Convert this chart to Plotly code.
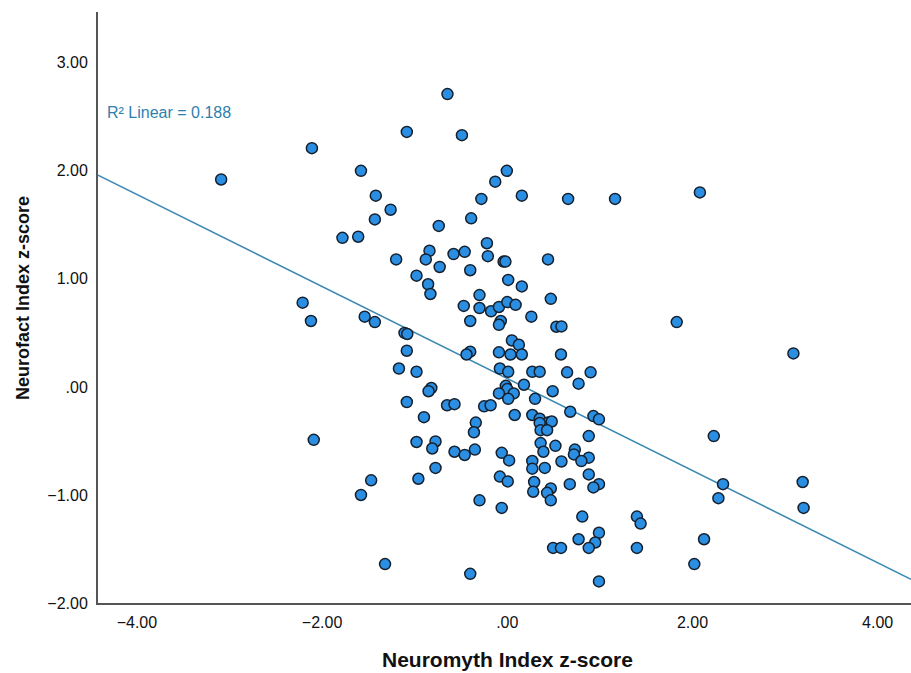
import plotly.graph_objects as go
import numpy as np

# Data (z-scores)
neuromyth = [
    -3.09, -2.11, -2.21, -2.12, -2.09,
    -0.646, -1.085, -0.49, -1.58, -0.005, -0.13, -1.42, 0.157, 0.657, 1.164, -0.28,
    -1.26, -1.43, -0.39, -0.74, -1.78, -1.61, -0.22, -0.84, -0.58, -0.46, -0.21,
    -0.88, -0.04, -0.02, -1.20, 0.44, -0.73, -0.40, 0.01, -0.98, -0.855, -0.83,
    0.157, -0.30, 0.47, -1.54, -1.43, -0.47, -0.30, -0.175, -0.09, 0.00, 0.09,
    -0.40, -0.07, -0.09, 0.26, 0.53, 0.585, -1.11, -1.08, -1.085, 0.05, 0.125,
    -0.40, -0.44, -0.09, 0.035, 0.157, 0.58,
    -1.17, -0.98, -0.08, 0.01, 0.27, 0.35, 0.646, 0.90, 0.77, 0.18, 0.49, -0.82,
    -0.85, -0.016, 0.00, -0.09, 0.07, 0.01, 0.30, -1.085, -0.65, -0.57, -0.25,
    -0.18, 0.68, 0.08, 0.27, 0.93, 0.99, -0.90, 0.35, 0.44, 0.48, 0.35, 0.36,
    0.43, -0.34, -0.36, 0.88, -0.98, -0.775, -0.81, 0.36, 0.52, 0.39, -0.35,
    -0.57, -0.46, -0.06, 0.02, 0.73, 0.72, 0.88, 0.80, 0.585, 0.27, 0.27, 0.405,
    -0.775, 0.88, -0.08, 0.005, 0.29, 0.675, 0.99, 0.93, -1.47, -0.96, -1.58,
    0.28, 0.47, 0.43, 0.47, -0.30, -0.06, 0.81, 0.99, 0.95, 0.88, 0.77, 0.495,
    0.58, -1.32, -0.40, 0.99,
    2.08, 1.83, 3.09, 2.23, 2.33, 2.28, 3.19, 3.20, 1.40, 1.44, 1.40, 2.125, 2.02,
]
neurofact = [
    1.92, 2.21, 0.78, 0.61, -0.49,
    2.71, 2.36, 2.33, 2.00, 2.00, 1.90, 1.77, 1.77, 1.74, 1.74, 1.74,
    1.64, 1.55, 1.56, 1.49, 1.38, 1.39, 1.33, 1.26, 1.23, 1.25, 1.21,
    1.18, 1.16, 1.16, 1.18, 1.18, 1.11, 1.08, 0.99, 1.03, 0.95, 0.86,
    0.93, 0.85, 0.815, 0.65, 0.60, 0.75, 0.73, 0.70, 0.74, 0.785, 0.76,
    0.61, 0.61, 0.575, 0.65, 0.557, 0.56, 0.50, 0.49, 0.335, 0.43, 0.39,
    0.326, 0.30, 0.32, 0.30, 0.30, 0.30,
    0.17, 0.14, 0.17, 0.14, 0.14, 0.14, 0.135, 0.135, 0.03, 0.02, -0.04, -0.01,
    -0.04, 0.01, -0.02, -0.06, -0.06, -0.11, -0.11, -0.14, -0.17, -0.16, -0.18,
    -0.17, -0.23, -0.26, -0.26, -0.27, -0.30, -0.28, -0.295, -0.33, -0.32, -0.335, -0.40,
    -0.40, -0.33, -0.42, -0.455, -0.51, -0.505, -0.57, -0.52, -0.545, -0.60, -0.58,
    -0.60, -0.63, -0.61, -0.68, -0.58, -0.625, -0.655, -0.686, -0.69, -0.686, -0.757, -0.75,
    -0.75, -0.81, -0.83, -0.875, -0.88, -0.90, -0.90, -0.93, -0.865, -0.85, -1.00,
    -0.97, -0.94, -0.98, -1.05, -1.05, -1.12, -1.20, -1.35, -1.44, -1.49, -1.41, -1.49,
    -1.49, -1.64, -1.73, -1.80,
    1.80, 0.60, 0.31, -0.455, -0.90, -1.03, -0.88, -1.12, -1.20, -1.265, -1.49, -1.41, -1.64,
]

# Reported linear fit, R² = 0.188
fit_slope = -0.426
fit_intercept = 0.077
r2_label = "R² Linear = 0.188"

x_title = "Neuromyth Index z-score"
y_title = "Neurofact Index z-score"
x_tickvals = [-4, -2, 0, 2, 4]
x_ticktext = ["\u22124.00", "\u22122.00", ".00", "2.00", "4.00"]
y_tickvals = [-2, -1, 0, 1, 2, 3]
y_ticktext = ["\u22122.00", "\u22121.00", ".00", "1.00", "2.00", "3.00"]

x_range = [-4.42, 4.36]
y_range = [-2.0, 3.47]

W, H = 911, 673
ML, MR, MT, MB = 98, 0, 12, 70
plot_w = W - ML - MR
plot_h = H - MT - MB

FONT = "Liberation Sans, Arial, sans-serif"

fig = go.Figure()

line_x = np.array(x_range)
line_y = fit_intercept + fit_slope * line_x
fig.add_trace(go.Scatter(
    x=line_x, y=line_y, mode="lines",
    line=dict(color="#3d89b5", width=1.6),
    hoverinfo="skip", showlegend=False,
))

fig.add_trace(go.Scatter(
    x=neuromyth, y=neurofact, mode="markers",
    marker=dict(size=11, color="#2a8fe2",
                line=dict(color="#15202e", width=1.5)),
    showlegend=False,
))

# R² label
fig.add_annotation(
    x=0, xref="paper", xanchor="left", xshift=7,
    y=1 - (112 - MT) / plot_h, yref="paper", yanchor="middle",
    text=r2_label, showarrow=False,
    font=dict(family=FONT, size=16, color="#2f7fae"),
)
# x-axis title
fig.add_annotation(
    x=0.5, xref="paper", xanchor="center", xshift=3,
    y=0, yref="paper", yanchor="middle", yshift=-(659 - (MT + plot_h)),
    text="<b>%s</b>" % x_title, showarrow=False,
    font=dict(family=FONT, size=21, color="#111111"),
)
# y-axis title
fig.add_annotation(
    x=0, xref="paper", xanchor="center", xshift=-(ML - 23),
    y=1 - (298 - MT) / plot_h, yref="paper", yanchor="middle",
    text="<b>%s</b>" % y_title, showarrow=False, textangle=-90,
    font=dict(family=FONT, size=18, color="#111111"),
)

axis_font = dict(family=FONT, size=16, color="#111111")

fig.update_layout(
    width=W, height=H,
    margin=dict(l=ML, r=MR, t=MT, b=MB, autoexpand=False),
    paper_bgcolor="white", plot_bgcolor="white",
    xaxis=dict(
        range=x_range, tickvals=x_tickvals, ticktext=x_ticktext,
        showgrid=False, zeroline=False, showline=True, linecolor="#555555", linewidth=2,
        ticks="", tickfont=axis_font, ticklabelstandoff=4, automargin=False,
    ),
    yaxis=dict(
        range=y_range, tickvals=y_tickvals, ticktext=y_ticktext,
        showgrid=False, zeroline=False, showline=True, linecolor="#555555", linewidth=2,
        ticks="", tickfont=axis_font, ticklabelstandoff=5, automargin=False,
    ),
)

fig.write_html(
    "out.html",
    config={"displayModeBar": False},
    post_script="document.body.style.margin='0';document.body.style.padding='0';"
                "document.documentElement.style.overflow='hidden';",
)
